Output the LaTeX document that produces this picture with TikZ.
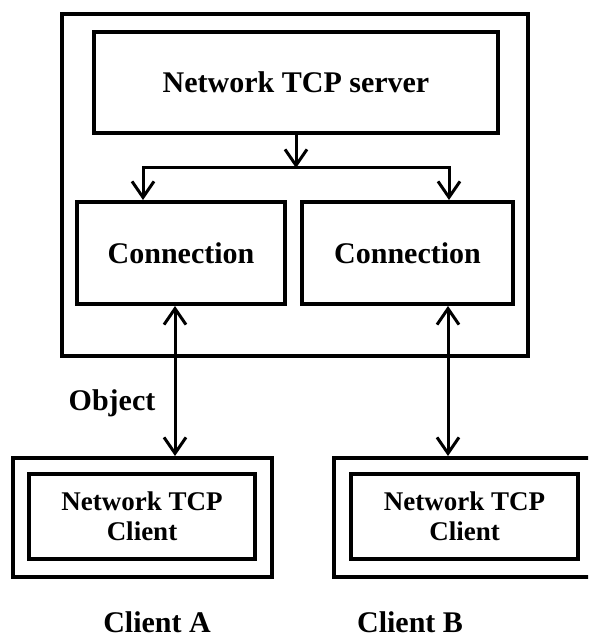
\documentclass[tikz,border=0pt]{standalone}
\usepackage{fontspec}
\setmainfont{Liberation Serif}
\usetikzlibrary{arrows.meta,positioning,calc}

\begin{document}
\begin{tikzpicture}[x=0.5pt, y=-0.5pt,
    >={Straight Barb[length=8pt,width=11pt]},
    every node/.style={font=\fontsize{15}{17}\selectfont\bfseries},
    box/.style={draw, line width=2pt, inner sep=0pt},
    link/.style={line width=1.5pt}]
    \clip (0,0) rectangle (588,636);
    \tikzset{ClientStyle/.style={box, align=center,
        font=\fontsize{13.5}{15}\selectfont\bfseries}}
    \node[box, minimum width=233pt, minimum height=171pt] (frame) at (295,185) {};
    \node[box, minimum width=202pt, minimum height=50.5pt] (server) at (296,82.5) {Network TCP server};
    \node[box, minimum width=104pt, minimum height=51pt] (connA) at (181,253) {Connection};
    \node[box, minimum width=105.5pt, minimum height=51pt] (connB) at (407.5,253) {Connection};
    \node[box, minimum width=129.5pt, minimum height=59.5pt] (clientA) at (142.5,517.5) {};
    \node[ClientStyle, minimum width=113pt, minimum height=42.5pt] (tcpA) at (142,516.5) {Network TCP\\Client};
    \node[box, minimum width=129pt, minimum height=59.5pt] (clientB) at (463,517.5) {};
    \node[ClientStyle, minimum width=113.5pt, minimum height=42.5pt] (tcpB) at (464.5,516.5) {Network TCP\\Client};
    \node (object) at (112,403) {Object};
    \node (nameA) at (157,622) {Client A};
    \node (nameB) at (410,622) {Client B};
    \coordinate (split) at (296,168);
    \coordinate (splitA) at (143,168);
    \coordinate (splitB) at (449,168);
    \coordinate (linkA) at (175,400);
    \coordinate (linkB) at (448,400);
    \draw[link,->] (server.south) -- (split);
    \draw[link,<->] (connA.north -| splitA) -- (splitA) -- (splitB) -- (connB.north -| splitB);
    \draw[link,<->] (connA.south -| linkA) -- (clientA.north -| linkA);
    \draw[link,<->] (connB.south -| linkB) -- (clientB.north -| linkB);
\end{tikzpicture}
\end{document}
